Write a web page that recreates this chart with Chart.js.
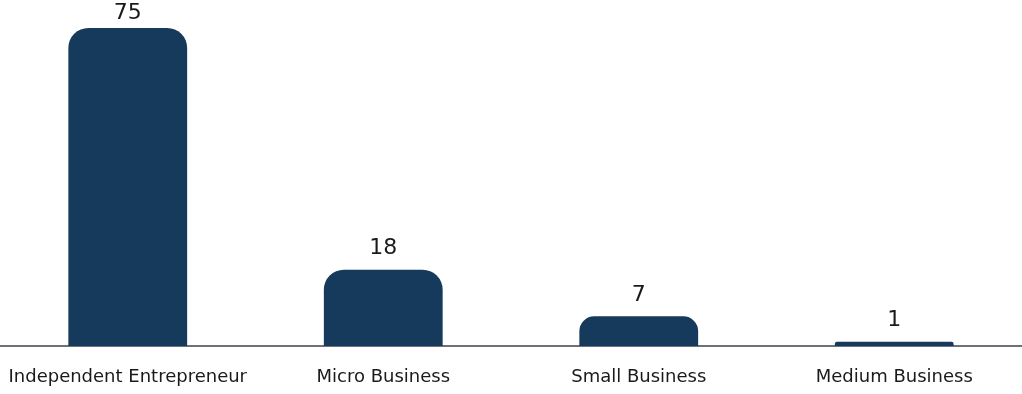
<!DOCTYPE html>
<html>
<head>
<meta charset="utf-8">
<script src="https://cdn.jsdelivr.net/npm/chart.js@4"></script>
<style>
  html, body { margin: 0; padding: 0; background: #fff; }
  #wrap { width: 1022px; height: 394px; position: relative; }
</style>
</head>
<body>
<div id="wrap"><canvas id="sizeChart"></canvas></div>
<script>
const categories = ["Independent Entrepreneur", "Micro Business", "Small Business", "Medium Business"];
const counts = [75, 18, 7, 1];

const FONT = "'DejaVu Sans', sans-serif";

// value above each bar
const valueLabels = {
  id: "valueLabels",
  afterDatasetsDraw(chart) {
    const { ctx } = chart;
    const meta = chart.getDatasetMeta(0);
    ctx.save();
    ctx.font = "22px " + FONT;
    ctx.fillStyle = "#1a1a1a";
    ctx.textAlign = "center";
    ctx.textBaseline = "bottom";
    meta.data.forEach((bar, i) => {
      const y = Math.max(bar.y - 10, 24);
      ctx.fillText(String(counts[i]), bar.x, y);
    });
    ctx.restore();
  },
};

new Chart(document.getElementById("sizeChart"), {
  type: "bar",
  data: {
    labels: categories,
    datasets: [{
      data: counts,
      backgroundColor: "#163a5c",
      borderRadius: 20,
      borderSkipped: "start",
      categoryPercentage: 1,
      barPercentage: 0.465,
    }],
  },
  options: {
    responsive: true,
    maintainAspectRatio: false,
    animation: false,
    layout: { padding: { top: 28, left: 0, right: 0, bottom: 0 } },
    plugins: {
      legend: { display: false },
      tooltip: { enabled: false },
    },
    scales: {
      x: {
        grid: { display: false, drawTicks: false },
        border: { color: "#6f7078", width: 2 },
        ticks: {
          color: "#1a1a1a",
          font: { family: FONT, size: 18 },
          padding: 21,
        },
        // fixed axis band, no extra side room for the long first label
        afterFit(scale) {
          scale.height = 48;
          scale.paddingLeft = 0;
          scale.paddingRight = 0;
        },
      },
      y: {
        display: false,
        min: 0,
        max: 75,
      },
    },
  },
  plugins: [valueLabels],
});
</script>
</body>
</html>
